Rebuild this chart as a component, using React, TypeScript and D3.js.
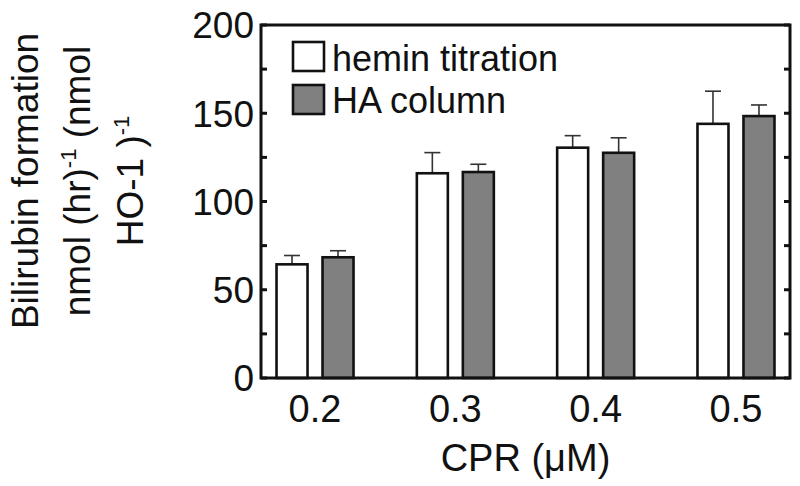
import React from "react";
import * as d3 from "d3";

const categories = ["0.2", "0.3", "0.4", "0.5"];
const heminValues = [64.4, 116.0, 130.5, 144.0];
const heminErrors = [5.0, 11.7, 6.8, 18.5];
const haValues = [68.4, 116.7, 127.6, 148.4];
const haErrors = [3.7, 4.4, 8.5, 6.3];
const yTicks = [0, 50, 100, 150, 200];
const yMinorTicks = [0, 25, 50, 75, 100, 125, 150, 175, 200];
const seriesNames = ["hemin titration", "HA column"];
const seriesFills = ["#ffffff", "#808080"];

const W = 800;
const H = 486;
const left = 261;
const right = 790;
const top = 25;
const bottom = 378;
const FONT = "'Liberation Sans', Arial, sans-serif";
const FS = 36;

export default function App() {
  const x = d3.scalePoint<string>().domain(categories).range([left, right]).padding(0.385);
  const y = d3.scaleLinear().domain([0, 200]).range([bottom, top]);
  const barW = 31;
  const gap = 15;
  const series = [
    { values: heminValues, errors: heminErrors, fill: seriesFills[0], offset: -gap / 2 - barW },
    { values: haValues, errors: haErrors, fill: seriesFills[1], offset: gap / 2 },
  ];
  const sup = 22;
  return (
    <svg width={W} height={H} style={{ position: "absolute", left: 0, top: 0 }} fontFamily={FONT}>
      <rect x={0} y={0} width={W} height={H} fill="#fff" />
      {/* bars */}
      {series.map((s, si) =>
        categories.map((c, i) => {
          const bx = (x(c) as number) + s.offset;
          const v = s.values[i];
          const e = s.errors[i];
          const cx = bx + barW / 2;
          return (
            <g key={`${si}-${i}`}>
              <line x1={cx} x2={cx} y1={y(v)} y2={y(v + e)} stroke="#333" strokeWidth={1.6} />
              <line x1={cx - 8} x2={cx + 8} y1={y(v + e)} y2={y(v + e)} stroke="#333" strokeWidth={1.6} />
              <rect x={bx} y={y(v)} width={barW} height={y(0) - y(v)} fill={s.fill} stroke="#111" strokeWidth={2.6} />
            </g>
          );
        })
      )}
      {/* frame */}
      <rect x={left} y={top} width={right - left} height={bottom - top} fill="none" stroke="#111" strokeWidth={3} />
      {/* ticks */}
      {yMinorTicks.map((t) => (
        <g key={`t${t}`}>
          <line x1={left} x2={left + 6} y1={y(t)} y2={y(t)} stroke="#111" strokeWidth={3} />
          <line x1={right - 6} x2={right} y1={y(t)} y2={y(t)} stroke="#111" strokeWidth={3} />
        </g>
      ))}
      {yTicks.map((t) => (
        <text key={`l${t}`} x={254} y={y(t)} dy="0.36em" textAnchor="end" fontSize={FS + 1} fill="#111">
          {t}
        </text>
      ))}
      {categories.map((c) => (
        <text key={`c${c}`} x={x(c) as number} y={422} textAnchor="middle" fontSize={FS + 2} fill="#111">
          {c}
        </text>
      ))}
      <text x={(left + right) / 2} y={471} textAnchor="middle" fontSize={FS + 2} fill="#111">
        CPR (μM)
      </text>
      {/* y title */}
      <g fill="#111" fontSize={FS + 1}>
        <text transform={`translate(38,181) rotate(-90)`} textAnchor="middle">
          Bilirubin formation
        </text>
        <text transform={`translate(90,181) rotate(-90)`} textAnchor="middle">
          nmol (hr)
          <tspan fontSize={sup} dy={-14}>-1</tspan>
          <tspan dy={14}> (nmol</tspan>
        </text>
        <text transform={`translate(143,181) rotate(-90)`} textAnchor="middle">
          HO-1 )
          <tspan fontSize={sup} dy={-14}>-1</tspan>
        </text>
      </g>
      {/* legend */}
      {seriesNames.map((n, i) => (
        <g key={n}>
          <rect x={293} y={42 + i * 43} width={31} height={29} fill={seriesFills[i]} stroke="#111" strokeWidth={2.6} />
          <text x={332} y={71 + i * 42} fontSize={FS} fill="#111">
            {n}
          </text>
        </g>
      ))}
    </svg>
  );
}
